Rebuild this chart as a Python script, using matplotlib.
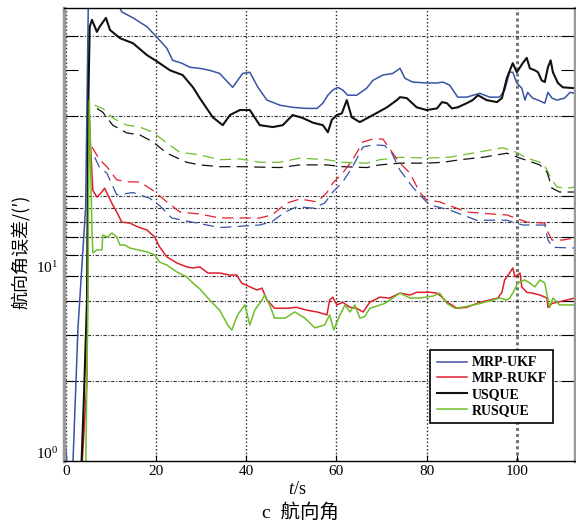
import matplotlib
matplotlib.use('Agg')
import matplotlib.pyplot as plt

plt.rcParams['font.family'] = ['Liberation Serif', 'Noto Sans CJK SC', 'DejaVu Sans']
plt.rcParams['mathtext.fontset'] = 'custom'
plt.rcParams['mathtext.rm'] = 'Liberation Serif'
plt.rcParams['mathtext.it'] = 'Liberation Serif:italic'
plt.rcParams['mathtext.bf'] = 'Liberation Serif:bold'

# MRP-UKF (蓝色实线)
t_ukf = [0, 0.4, 1.6, 2.7, 4.4, 5.0, 7.0, 10.0, 12.4, 14.9, 18.0, 20.2, 22.4, 23.7, 25.7, 27.5,
         29.7, 31.9, 34.1, 37.0, 39.2, 40.8, 42.6, 44.6, 47.5, 50.3, 53.4, 55.7, 57.0, 58.1,
         59.2, 60.3, 61.4, 62.5, 64.5, 66.7, 68.1, 70.3, 72.5, 74.1, 75.2, 76.9, 80.0, 82.3,
         83.6, 85.1, 86.9, 88.9, 91.8, 94.0, 96.2, 97.3, 98.4, 99.1, 100.0, 101.1, 101.8,
         102.4, 103.5, 104.7, 106.2, 106.9, 107.8, 108.9, 110.6, 111.8, 112.9]
v_ukf = [1.12, 0.9, 1.0, 3.18, 9.1, 55, 70, 60, 49.5, 47.0, 43.5, 39.7, 36.1, 32.5, 31.7, 30.6,
         30.3, 29.8, 29.0, 25.7, 29.0, 29.3, 25.7, 23.0, 22.0, 21.6, 21.4, 21.4, 22.4, 24.0,
         25.1, 25.7, 25.1, 24.0, 24.0, 25.5, 27.3, 28.6, 29.0, 30.3, 27.8, 26.9, 26.7, 26.7,
         26.9, 26.2, 23.6, 23.6, 24.4, 23.6, 23.6, 25.1, 29.3, 29.3, 26.7, 25.5, 23.0,
         24.6, 23.4, 23.0, 22.4, 24.6, 23.4, 23.0, 23.4, 24.6, 24.4]

# MRP-RUKF (红色实线)
t_rukf = [3.5, 4.7, 5.1, 5.5, 6.0, 6.9, 8.0, 8.6, 9.3, 10.4, 11.3, 12.4, 14.2, 16.0, 18.0, 19.7,
          20.8, 22.4, 24.6, 26.8, 28.2, 29.7, 31.5, 34.1, 36.4, 37.9, 39.0, 40.8, 42.4, 43.5,
          44.6, 46.3, 49.0, 51.2, 53.4, 55.7, 57.9, 58.5, 59.2, 60.1, 61.4, 63.0, 64.5, 65.9,
          67.4, 69.6, 71.8, 74.1, 76.3, 77.8, 80.7, 82.3, 83.4, 84.5, 85.6, 86.7, 88.9, 91.8,
          94.0, 95.8, 96.7, 97.3, 98.4, 99.1, 99.6, 100.7, 101.1, 102.2, 103.5, 105.1, 106.7,
          106.9, 107.8, 108.9, 111.1, 112.9]
v_rukf = [0.9, 2.0, 23.0, 15.3, 10.5, 9.9, 10.35, 10.7, 10.1, 9.25, 8.7, 7.97, 7.9, 7.64, 7.44, 7.0,
          6.42, 5.89, 5.59, 5.40, 5.35, 5.40, 5.12, 5.12, 5.03, 5.03, 4.69, 4.54, 4.42, 4.49,
          4.05, 3.77, 3.77, 3.80, 3.71, 3.65, 3.56, 4.05, 4.15, 3.88, 3.97, 3.80, 3.77, 3.65,
          3.97, 4.15, 4.12, 4.30, 4.23, 4.33, 4.33, 4.30, 4.15, 3.97, 3.88, 3.77, 3.80, 3.97,
          4.05, 4.12, 4.33, 4.82, 5.12, 5.35, 4.95, 5.12, 4.54, 4.33, 4.30, 4.23, 4.12,
          3.80, 3.93, 3.97, 4.05, 4.12]

# USQUE (黑色实线)
t_usque = [3.5, 4.0, 4.7, 5.0, 5.3, 5.8, 6.9, 7.5, 8.9, 9.8, 12.0, 14.9, 18.0, 20.2, 23.1, 25.9,
           28.2, 29.7, 32.6, 34.8, 36.4, 38.6, 40.8, 43.0, 45.9, 48.1, 50.3, 52.5, 54.8, 57.0,
           58.1, 59.0, 60.1, 61.2, 62.3, 63.4, 65.2, 68.1, 71.2, 73.4, 74.1, 75.6, 77.8, 80.0,
           82.3, 83.4, 84.5, 85.6, 86.9, 88.9, 90.2, 91.4, 93.3, 95.6, 96.7, 97.8, 99.1, 100.0,
           101.3, 102.2, 102.9, 104.0, 104.7, 105.5, 106.2, 106.9, 107.5, 108.0, 109.1, 110.2, 113.0]
v_usque = [1.0, 1.70, 4.05, 23.0, 43.5, 46.2, 41.6, 43.5, 47.0, 42.3, 39.4, 37.7, 34.0, 32.2, 29.8, 28.6,
           25.7, 23.4, 19.8, 18.5, 20.2, 21.1, 21.1, 18.5, 18.2, 18.5, 20.2, 19.7, 18.9, 18.5,
           17.4, 19.4, 20.2, 20.5, 23.0, 19.8, 19.0, 20.2, 21.6, 23.0, 23.6, 23.4, 21.6, 21.1,
           21.4, 22.6, 22.4, 21.4, 21.6, 22.4, 23.0, 24.0, 23.0, 22.6, 23.4, 27.9, 31.7, 29.3,
           31.7, 33.2, 30.3, 29.8, 29.3, 27.3, 26.9, 30.6, 32.5, 29.3, 26.7, 25.7, 25.5]

# RUSQUE (绿色实线)
t_rusque = [4.4, 4.9, 5.2, 5.8, 6.0, 6.9, 8.0, 8.2, 9.3, 10.2, 11.3, 12.0, 13.1, 14.2, 16.0, 18.0,
            19.7, 20.8, 22.4, 24.6, 26.8, 28.2, 29.7, 31.9, 34.1, 35.9, 36.8, 38.1, 39.7, 40.8,
            41.9, 43.5, 44.1, 45.2, 46.3, 48.6, 50.8, 53.0, 55.2, 57.4, 58.5, 59.4, 60.8, 61.9,
            63.0, 64.1, 65.2, 66.3, 67.4, 70.7, 74.1, 76.3, 78.5, 81.4, 82.9, 84.5, 86.3, 88.9,
            91.8, 94.7, 96.2, 97.8, 98.4, 99.1, 100.2, 101.8, 102.9, 104.0, 105.1, 106.2, 106.7,
            107.3, 108.0, 109.5, 111.1, 112.9]
v_rusque = [0.9, 4.05, 23.0, 7.44, 6.1, 6.26, 6.26, 7.12, 7.0, 7.25, 7.0, 6.53, 6.53, 6.36, 6.26, 6.15,
            5.99, 5.63, 5.49, 5.17, 4.95, 4.69, 4.46, 4.05, 3.71, 3.26, 3.12, 3.56, 3.88, 3.26,
            3.71, 4.05, 4.23, 3.88, 3.46, 3.46, 3.65, 3.46, 3.18, 3.26, 3.56, 3.12, 3.56, 3.88,
            3.65, 3.88, 3.46, 3.51, 3.77, 3.93, 4.30, 4.12, 4.12, 4.19, 4.30, 3.93, 3.77, 3.83,
            3.93, 4.05, 4.12, 4.05, 4.12, 4.30, 4.69, 4.82, 4.69, 4.54, 4.82, 4.69, 4.23,
            3.80, 4.12, 3.88, 3.88, 3.88]

# 虚线 (无图例)
t_rusque_d = [6.4, 8.2, 10.4, 13.5, 16.4, 19.3, 22.4, 25.3, 29.7, 34.1, 38.6, 43.0, 47.5, 51.9,
              57.9, 61.4, 66.7, 69.6, 74.1, 80.0, 85.1, 91.1, 96.9, 100.0, 102.2, 105.8, 106.7,
              107.8, 108.9, 111.1, 112.9]
v_rusque_d = [22.0, 21.4, 19.7, 18.5, 18.2, 17.4, 15.85, 14.6, 14.3, 13.7, 13.8, 13.4, 13.4, 13.9,
              13.7, 13.4, 13.3, 13.7, 14.0, 13.9, 14.0, 14.6, 15.2, 14.6, 13.9, 13.3, 12.5,
              11.5, 10.8, 10.7, 10.8]

t_usque_d = [6.9, 8.2, 10.4, 13.5, 16.4, 19.3, 22.4, 26.8, 29.7, 34.1, 38.6, 47.5, 51.9, 57.9,
             61.4, 66.7, 69.6, 74.1, 80.0, 83.6, 87.4, 92.5, 97.8, 100.7, 105.1, 106.7, 107.8,
             109.5, 112.9]
v_usque_d = [21.4, 20.7, 18.5, 17.3, 17.0, 16.0, 14.5, 13.4, 13.1, 12.9, 12.9, 12.8, 13.1, 13.1,
             12.9, 12.8, 13.1, 13.3, 13.3, 13.4, 13.7, 14.0, 14.5, 13.9, 13.1, 12.3, 10.7,
             10.35, 10.35]

t_rukf_d = [5.8, 7.5, 9.1, 11.3, 14.2, 16.4, 19.3, 22.4, 25.3, 29.7, 34.1, 43.0, 45.7, 49.0, 51.9,
            55.7, 57.9, 59.2, 61.4, 63.6, 65.9, 68.1, 70.3, 72.5, 74.1, 76.3, 78.5, 80.0, 82.9,
            88.9, 92.5, 97.8, 102.2, 106.2, 106.9, 107.8, 110.2, 112.9]
v_rukf_d = [15.3, 13.7, 12.9, 11.5, 11.3, 11.3, 10.5, 9.5, 8.7, 8.55, 8.26, 8.26, 8.48, 9.4, 9.74,
            9.5, 10.3, 11.2, 12.2, 13.7, 16.0, 16.4, 16.4, 14.5, 13.3, 12.2, 10.3, 9.66, 9.5,
            8.7, 8.6, 8.48, 7.97, 7.9, 7.3, 6.82, 6.82, 6.95]

t_ukf_d = [6.4, 7.5, 9.1, 10.4, 11.3, 14.9, 18.6, 20.8, 23.5, 27.5, 31.3, 34.1, 43.0, 45.7, 48.6,
           51.2, 54.8, 57.4, 59.2, 61.4, 63.6, 65.9, 68.1, 70.7, 72.3, 74.1, 76.9, 79.2, 80.7,
           85.1, 91.1, 97.8, 101.3, 106.2, 106.9, 108.0, 112.9]
v_ukf_d = [14.0, 12.8, 12.2, 10.9, 10.1, 10.3, 9.8, 9.2, 8.26, 8.0, 7.77, 7.6, 7.77, 8.0, 8.7,
           9.1, 9.0, 9.4, 10.35, 11.3, 12.9, 15.3, 15.6, 15.5, 14.5, 12.5, 10.8, 9.8, 9.25,
           8.85, 8.1, 8.1, 7.77, 7.77, 6.82, 6.4, 6.36]

y_minor = [2, 3, 4, 5, 6, 7, 8, 9, 10, 20, 30, 40]

c_blue = '#3a52a3'
c_red = '#e01f2d'
c_black = '#111111'
c_green = '#6fbe2a'

fig = plt.figure(figsize=(5.76, 5.25), dpi=100)
ax = fig.add_axes([64/576, 64/525, 511/576, 453/525])

dash = (0, (9, 5))
ax.plot(t_rusque_d, v_rusque_d, color=c_green, lw=0.9, linestyle=dash)
ax.plot(t_usque_d, v_usque_d, color=c_black, lw=0.9, linestyle=dash)
ax.plot(t_rukf_d, v_rukf_d, color=c_red, lw=0.9, linestyle=dash)
ax.plot(t_ukf_d, v_ukf_d, color=c_blue, lw=0.9, linestyle=dash)

ax.plot(t_ukf, v_ukf, color=c_blue, lw=1.1, label='MRP-UKF')
ax.plot(t_rukf, v_rukf, color=c_red, lw=1.1, label='MRP-RUKF')
ax.plot(t_usque, v_usque, color=c_black, lw=1.5, label='USQUE')
ax.plot(t_rusque, v_rusque, color=c_green, lw=1.1, label='RUSQUE')

ax.set_yscale('log')
ax.set_xlim(-0.4, 112.9)
ax.set_ylim(1.0, 51.2)

ax.set_xticks([0, 20, 40, 60, 80, 100])
ax.set_xticklabels(['0', '20', '40', '60', '80', '100'], fontsize=11)
ax.set_yticks([1.08, 5.4])
ax.set_yticklabels([r'$\mathregular{10^0}$', r'$\mathregular{10^1}$'], fontsize=11)
ax.set_yticks(y_minor, minor=True)
ax.yaxis.set_minor_formatter(matplotlib.ticker.NullFormatter())
ax.tick_params(axis='y', which='major', length=0, pad=4)
ax.tick_params(axis='y', which='minor', direction='in', length=10, width=0.8, right=True)
ax.tick_params(axis='x', which='major', direction='in', length=4, pad=3)

ax.xaxis.grid(True, linestyle=':', color='#222222', lw=1.0)
ax.yaxis.grid(True, which='minor', linestyle=(0, (3, 1.5, 1, 1.5)), color='#333333', lw=0.8)
for val, tk in zip(y_minor, ax.yaxis.get_minor_ticks()):
    if val == 30:
        tk.gridline.set_visible(False)
xg = ax.xaxis.get_gridlines()
xg[5].set_color('#777777')
xg[5].set_linewidth(2.2)
xg[5].set_linestyle((0, (1, 1)))

for s in ['left', 'right']:
    ax.spines[s].set_color('#999999')
    ax.spines[s].set_linewidth(2.5)
ax.spines['top'].set_linewidth(1.0)
ax.spines['bottom'].set_linewidth(1.0)

leg = ax.legend(loc='lower right', bbox_to_anchor=(0.957, 0.084),
                prop={'family': 'Liberation Serif', 'weight': 'bold', 'size': 10},
                fancybox=False, edgecolor='black', framealpha=1, borderpad=0.45,
                labelspacing=0.2, handlelength=2.2, handletextpad=0.3, borderaxespad=0)
leg.get_frame().set_linewidth(1.2)

fig.text(20/576, 1 - 252/525, '航向角误差/(′)', rotation=90, ha='center', va='center',
         fontsize=13, family=['Noto Sans CJK SC', 'DejaVu Sans'])
fig.text(297/576, 1 - 490/525, r'$\mathit{t}$/s', ha='center', va='center', fontsize=13)
fig.text(301/576, 1 - 512/525, 'c  航向角', ha='center', va='center', fontsize=14,
         family=['Liberation Serif', 'Noto Sans CJK SC'])

fig.savefig('out.png', dpi=100)
